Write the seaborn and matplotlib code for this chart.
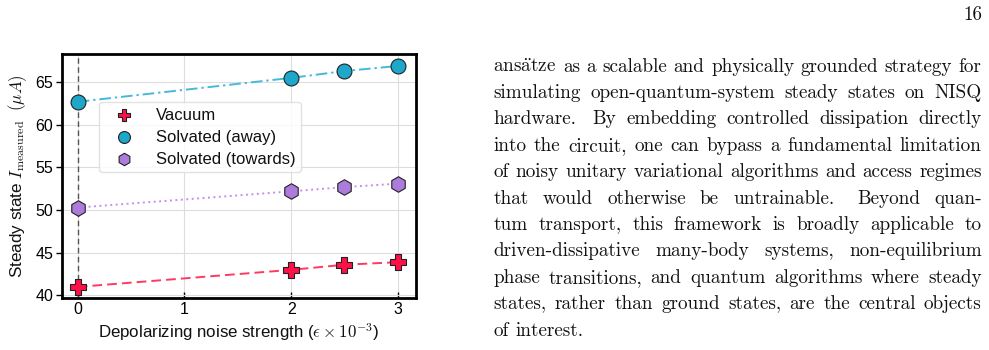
import numpy as np
import pandas as pd
import matplotlib
matplotlib.use("Agg")
import matplotlib.pyplot as plt
import seaborn as sns

# ---------------- data ----------------
noise = [0, 2, 2.5, 3]
vacuum = [41.0, 43.0, 43.6, 43.9]
solv_away = [62.7, 65.5, 66.3, 66.9]
solv_towards = [50.3, 52.2, 52.7, 53.1]
series_names = ["Vacuum", "Solvated (away)", "Solvated (towards)"]
xticks = [0, 1, 2, 3]
yticks = [40, 45, 50, 55, 60, 65]

page_number = "16"
paragraph_lines = [
    r"ans$\ddot{\mathrm{a}}$tze as a scalable and physically grounded strategy for",
    "simulating open-quantum-system steady states on NISQ",
    "hardware.  By embedding controlled dissipation directly",
    "into the circuit, one can bypass a fundamental limitation",
    "of noisy unitary variational algorithms and access regimes",
    "that would otherwise be untrainable.  Beyond quan-",
    "tum transport, this framework is broadly applicable to",
    "driven-dissipative many-body systems, non-equilibrium",
    "phase transitions, and quantum algorithms where steady",
    "states, rather than ground states, are the central objects",
    "of interest.",
]

# ---------------- style ----------------
sns.set_theme(style="whitegrid")
plt.rcParams['font.family'] = ['Liberation Sans', 'DejaVu Sans']
plt.rcParams['mathtext.fontset'] = 'cm'

W, H = 989, 350
fig = plt.figure(figsize=(W / 100, H / 100), dpi=100)
fig.patch.set_facecolor('white')
ax = fig.add_axes([61.7 / W, 1 - 298 / H, (416 - 61.7) / W, (298 - 54) / H])
ax.set_facecolor('white')

df = pd.DataFrame({
    "noise": noise * 3,
    "current": vacuum + solv_away + solv_towards,
    "series": sum([[n] * len(noise) for n in series_names], []),
})

styles = {
    "Vacuum": dict(mc="#FF1148", lc="#FF3A62", ls=(0, (5, 2.6)), marker="P", s=135),
    "Solvated (away)": dict(mc="#1CA7CB", lc="#45BAD8", ls=(0, (6, 2, 1.2, 2)), marker="o", s=115),
    "Solvated (towards)": dict(mc="#AD7BDB", lc="#C290EA", ls=(0, (1, 1.8)), marker="h", s=125),
}

ax.axvline(0, color="#555555", lw=1.0, ls=(0, (4, 2.5)), zorder=1)

for name in series_names:
    st = styles[name]
    sub = df[df["series"] == name]
    sns.lineplot(data=sub, x="noise", y="current", ax=ax, color=st["lc"],
                 linestyle=st["ls"], lw=1.4, legend=False, zorder=2)
for name in series_names:
    st = styles[name]
    sub = df[df["series"] == name]
    sns.scatterplot(data=sub, x="noise", y="current", ax=ax, color=st["mc"],
                    marker=st["marker"], s=st["s"], edgecolor="#222222",
                    linewidth=0.8, label=name, zorder=3)

ax.set_xticks(xticks)
ax.set_yticks(yticks)
ax.set_xlim(-0.15, 3.17)
ax.set_ylim(39.7, 68.3)
ax.grid(True, color="#DDDDDD", lw=0.8)
for sp in ax.spines.values():
    sp.set_color("black")
    sp.set_linewidth(2.0)
ax.tick_params(axis='x', bottom=True, direction='in', length=4, width=1,
               color='black', labelsize=11.5, pad=3, labelcolor='black')
ax.tick_params(axis='y', left=True, direction='out', length=4, width=1,
               color='black', labelsize=11.5, pad=2, labelcolor='black')

ax.set_xlabel(r"Depolarizing noise strength ($\epsilon \times 10^{-3}$)",
              fontsize=12.2, color='#111111', labelpad=3)
ax.set_ylabel(r"Steady state $I_{\mathrm{measured}}$  $(\mu A)$",
              fontsize=12.3, color='#111111', labelpad=5)

leg = ax.legend(loc="upper left", bbox_to_anchor=(0.106, 0.804), borderaxespad=0,
                fontsize=12, frameon=True, facecolor='white', edgecolor='#DDDDDD',
                framealpha=0.85, handlelength=2.3, handletextpad=0.75,
                labelspacing=0.42, markerscale=0.8, borderpad=0.35)
for t in leg.get_texts():
    t.set_color('#111111')

# ---------------- page text ----------------
serif = ['cmr10', 'DejaVu Serif']
fs = 13.8
fig.text(982 / W, 1 - 20 / H, page_number, ha='right', va='baseline',
         fontsize=fs, family=serif, color='#111111')

renderer = fig.canvas.get_renderer()
x_left, x_right = 493.3, 981.7
space_px = fs * 100 / 72 * 0.333
for i, line in enumerate(paragraph_lines):
    yb = 1 - (71.7 + 26.4 * i) / H
    raw = line.split(' ')
    words, extra = [], []
    for w in raw:
        if w == '':
            if extra:
                extra[-1] += 0.6
            continue
        words.append(w)
        extra.append(0.0)
    texts = [fig.text(0, yb, w, ha='left', va='baseline', fontsize=fs,
                      family=serif, color='#111111') for w in words]
    widths = [t.get_window_extent(renderer).width for t in texts]
    last = (i == len(paragraph_lines) - 1)
    n = len(words)
    if last or n == 1:
        gaps = [space_px * (1 + e) for e in extra[:-1]]
    else:
        weights = [1 + e for e in extra[:-1]]
        g = (x_right - x_left - sum(widths)) / sum(weights)
        gaps = [g * wgt for wgt in weights]
    x = x_left
    for k, t in enumerate(texts):
        t.set_x(x / W)
        x += widths[k]
        if k < n - 1:
            x += gaps[k]

fig.savefig("out.png", dpi=100, facecolor='white')
